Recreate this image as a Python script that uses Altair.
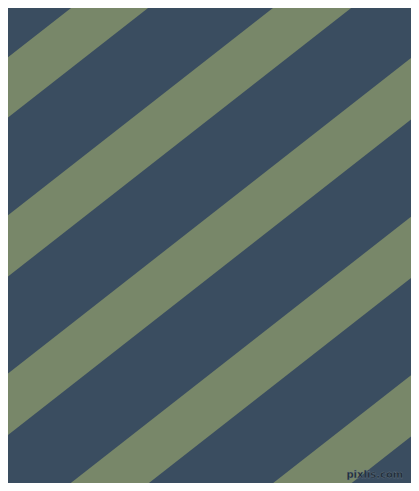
import altair as alt
import pandas as pd

# Image frame (pixels) and stripe geometry
img_w = 419
img_h = 491
# intercepts at left edge (x=0) of upper and lower edge of each green stripe
stripe_upper_left = [51.0, 214.3, 377.7, 541.8, 705.5]
stripe_lower_left = [113.3, 277.6, 441.3, 605.0, 769.0]
# intercepts at right edge (x=419)
stripe_upper_right = [-275.0, -111.7, 51.7, 215.8, 379.5]
stripe_lower_right = [-212.7, -48.4, 115.3, 279.0, 443.0]

dark = "#3A4D60"
green = "#788769"

rows = []
for i in range(len(stripe_upper_left)):
    rows.append({"stripe": i, "x": 0, "y": stripe_upper_left[i], "y2": stripe_lower_left[i]})
    rows.append({"stripe": i, "x": img_w, "y": stripe_upper_right[i], "y2": stripe_lower_right[i]})
df = pd.DataFrame(rows)

xs = alt.Scale(domain=[0, img_w], nice=False, zero=False)
ys = alt.Scale(domain=[img_h, 0], nice=False, zero=False)

stripes = alt.Chart(df).mark_area(color=green, clip=True, opacity=1).encode(
    x=alt.X("x:Q", scale=xs, axis=None),
    y=alt.Y("y:Q", scale=ys, axis=None),
    y2="y2:Q",
    detail="stripe:N",
)

wm = pd.DataFrame({"x": [411], "y": [486], "label": ["pixlis.com"]})
watermark = alt.Chart(wm).mark_text(
    font="DejaVu Sans", fontSize=10, fontWeight="bold", color="#1E2A35",
    stroke="#6B7B8A", strokeWidth=0.3, align="right", baseline="alphabetic",
).encode(
    x=alt.X("x:Q", scale=xs, axis=None),
    y=alt.Y("y:Q", scale=ys, axis=None),
    text="label:N",
)

chart = (stripes + watermark).properties(
    width=403, height=475, padding=0, background=dark,
    autosize=alt.AutoSizeParams(type="fit", contains="padding"),
).configure_view(strokeWidth=0, fill=dark)

chart.save("out.html", embed_options={"renderer": "svg", "actions": False})
